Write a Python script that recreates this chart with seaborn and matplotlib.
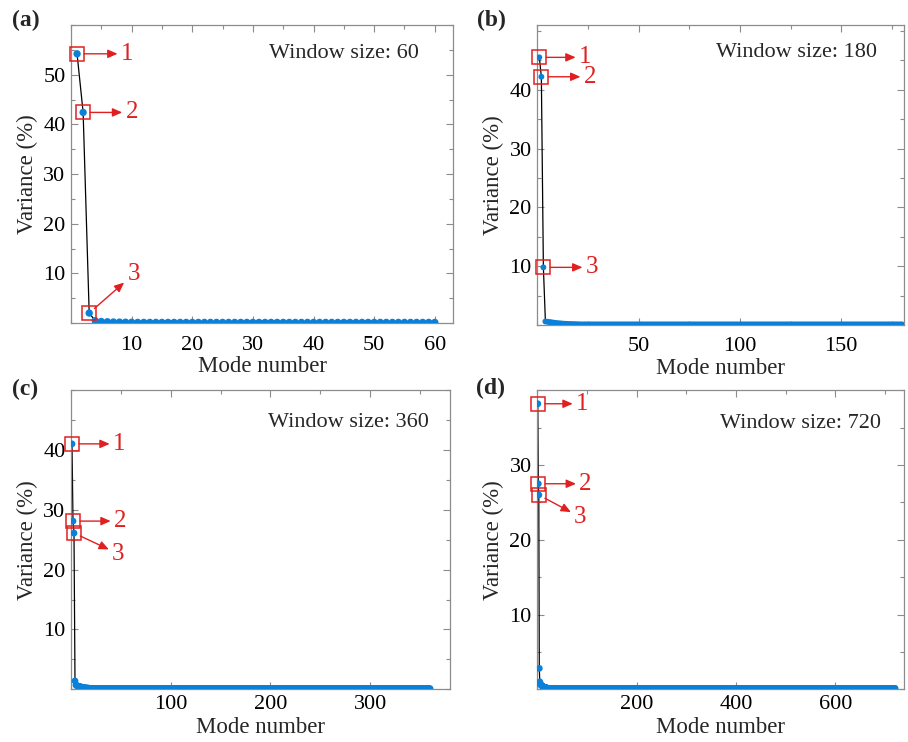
import numpy as np
import pandas as pd
import matplotlib
matplotlib.use("Agg")
import matplotlib.pyplot as plt
from matplotlib.ticker import MultipleLocator, FixedLocator
import seaborn as sns

sns.set_theme(style="ticks")
plt.rcParams["font.family"] = ["Liberation Serif", "DejaVu Serif"]
plt.rcParams["mathtext.fontset"] = "stix"

# ---------------- data ----------------
window_sizes = [60, 180, 360, 720]
panel_labels = ["(a)", "(b)", "(c)", "(d)"]

head_a = [54.2, 42.4, 2.0, 0.45, 0.3, 0.25, 0.2, 0.18, 0.16, 0.15]
tail_a = 0.12
head_b = [45.5, 42.2, 9.8, 0.6, 0.55, 0.5, 0.45, 0.4, 0.35, 0.3,
          0.28, 0.25, 0.22, 0.2, 0.18, 0.16, 0.15, 0.14, 0.13, 0.12]
tail_b = 0.1
head_c = [41.0, 28.1, 26.1, 1.4, 0.7, 0.6, 0.55, 0.5, 0.45, 0.4,
          0.35, 0.3, 0.28, 0.26, 0.24, 0.22, 0.2, 0.18, 0.16, 0.14]
tail_c = 0.12
head_d = [38.2, 27.5, 26.0, 2.8, 1.0, 0.7, 0.6, 0.55, 0.5, 0.45,
          0.4, 0.35, 0.3, 0.28, 0.26, 0.24, 0.22, 0.2, 0.18, 0.16]
tail_d = 0.12

heads = [head_a, head_b, head_c, head_d]
tails = [tail_a, tail_b, tail_c, tail_d]

x_limits = [(0, 63), (0, 181), (0, 380), (0, 738)]
y_limits = [(0, 60), (0, 51), (0, 50), (0, 40)]
x_major = [[10, 20, 30, 40, 50, 60], [50, 100, 150], [100, 200, 300], [200, 400, 600]]
x_minor = [5, 25, 50, 100]
y_major = [[10, 20, 30, 40, 50], [10, 20, 30, 40], [10, 20, 30, 40], [10, 20, 30]]

# annotation offsets (points) for labels 1, 2, 3
ann_offsets = [
    [(36, 0), (35, 0), (32, 28)],
    [(33, 0), (35, 0), (35, 0)],
    [(34, 0), (34, 0), (32, -15)],
    [(32, 0), (34, 0), (30, -16)],
]
marker_sizes = [28, 18, 24, 24]

# ---------------- layout ----------------
W, H = 908, 742
fig = plt.figure(figsize=(W / 100, H / 100), dpi=100)
boxes_px = [(71, 25, 453, 323), (537.3, 25, 904, 325),
            (71, 390, 450, 689.3), (537.3, 390.3, 904, 689.3)]
x_pads = [9, 9, 4, 4]
x_labelpads = [1, 1, 2, 2]
label_pos = [(12, 20), (477, 20), (12, 389), (476, 388)]
win_pos = [(0.911, 0.906), (0.926, 0.907), (0.945, 0.89), (0.937, 0.89)]

blue = "#0a80d8"
red = "#e02020"
grey = "#8c8c8c"

for i in range(4):
    l, t, r, b = boxes_px[i]
    ax = fig.add_axes([l / W, 1 - b / H, (r - l) / W, (b - t) / H])
    n = window_sizes[i]
    vals = heads[i] + [tails[i]] * (n - len(heads[i]))
    df = pd.DataFrame({"mode": np.arange(1, n + 1), "var": vals})

    sns.lineplot(data=df, x="mode", y="var", color="black", lw=0.9, ax=ax, zorder=2)
    sns.scatterplot(data=df, x="mode", y="var", color=blue, s=marker_sizes[i],
                    edgecolor="none", linewidth=0, ax=ax, zorder=3)

    ax.set_xlim(*x_limits[i])
    ax.set_ylim(*y_limits[i])
    ax.xaxis.set_major_locator(FixedLocator(x_major[i]))
    ax.xaxis.set_minor_locator(MultipleLocator(x_minor[i]))
    ax.yaxis.set_major_locator(FixedLocator(y_major[i]))
    ax.yaxis.set_minor_locator(MultipleLocator(5))
    ax.tick_params(which="both", direction="in", top=True, right=True,
                   color=grey, labelcolor="black", labelsize=16)
    ax.tick_params(axis="y", pad=4)
    ax.tick_params(axis="x", pad=x_pads[i])
    ax.tick_params(which="major", length=5, width=0.8)
    ax.tick_params(which="minor", length=3, width=0.8)
    for sp in ax.spines.values():
        sp.set_color(grey)
        sp.set_linewidth(0.9)

    ax.set_xlabel("Mode number", fontsize=16.5, labelpad=x_labelpads[i])
    ax.set_ylabel("Variance (%)", fontsize=16.5, labelpad=4)

    ax.text(win_pos[i][0], win_pos[i][1], f"Window size: {n}", transform=ax.transAxes,
            ha="right", va="center", fontsize=16)

    # red boxes around first three modes
    for k in range(3):
        xk, yk = k + 1, vals[k]
        ax.plot([xk], [yk], marker="s", ms=10, mfc="none", mec=red, mew=1.1,
                ls="none", zorder=4, clip_on=False)
        ax.annotate(str(k + 1), xy=(xk, yk), xycoords="data",
                    xytext=ann_offsets[i][k], textcoords="offset points",
                    ha="center", va="center", fontsize=18, color=red,
                    arrowprops=dict(arrowstyle="<|-,head_length=0.32,head_width=0.14",
                                    color=red, lw=1.0, shrinkA=0, shrinkB=5))

    fig.text(label_pos[i][0] / W, 1 - label_pos[i][1] / H, panel_labels[i],
             ha="left", va="center", fontsize=17, fontweight="bold")

fig.savefig("out.png", dpi=100)
